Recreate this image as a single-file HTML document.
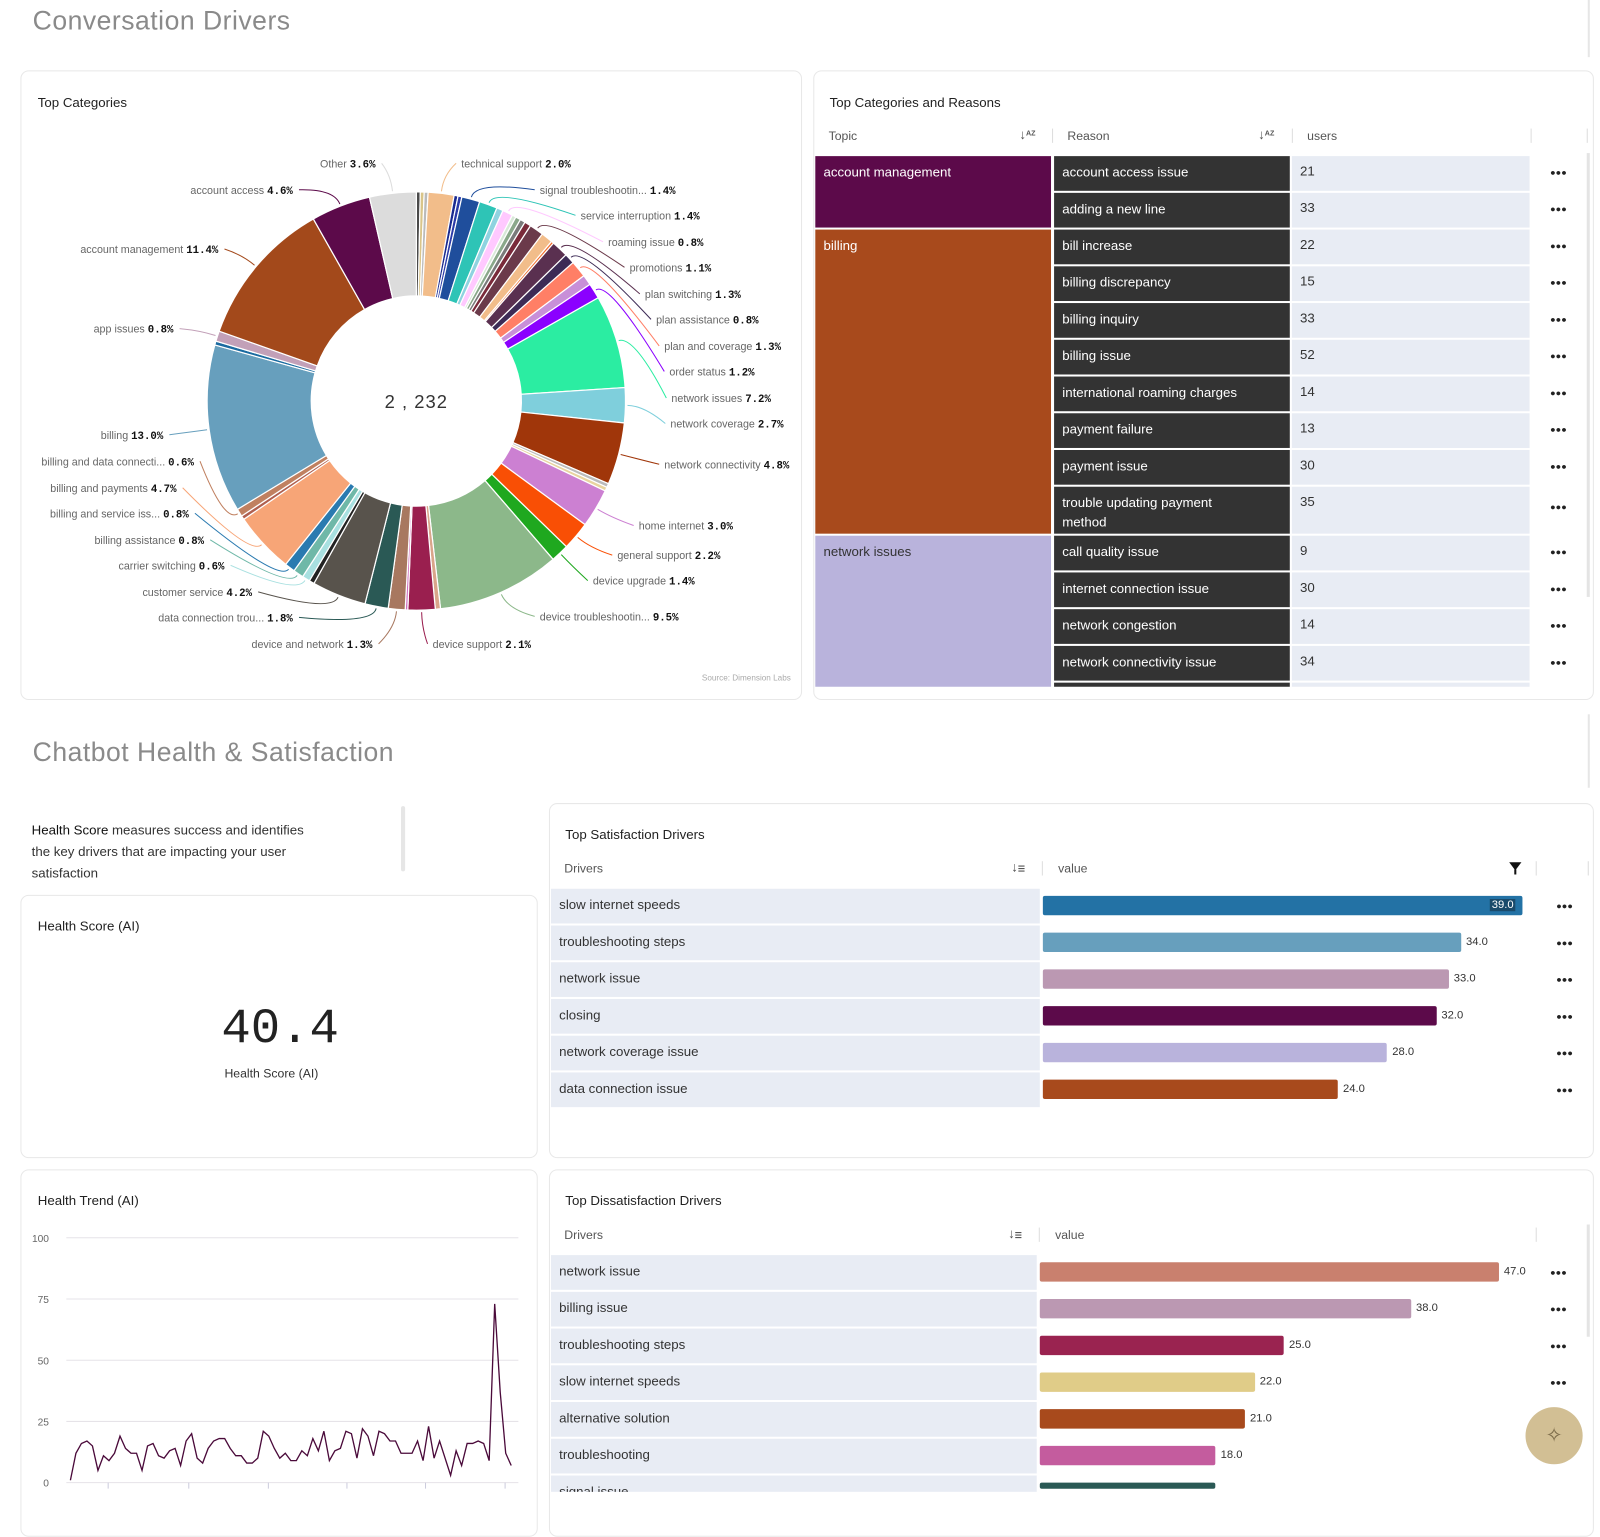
<!DOCTYPE html>
<html><head><meta charset="utf-8">
<style>
html,body{margin:0;padding:0;width:1600px;height:1489px;overflow:hidden;background:#fff;font-family:"Liberation Sans",sans-serif;}
#wrap{position:absolute;left:0;top:0;width:1568px;height:1459px;transform:scale(1.020408);transform-origin:0 0;}
.abs{position:absolute;}
.card{position:absolute;border:1px solid #e8e8e8;border-radius:8px;background:#fff;box-sizing:border-box;}
.h1{position:absolute;font-size:26px;color:#8a8a8a;letter-spacing:0.5px;}
.ttl{position:absolute;font-size:13px;color:#222;}
.hdr{position:absolute;font-size:12px;color:#555;}
.sep{position:absolute;width:1px;height:14px;background:#ddd;}
.cell{position:absolute;box-sizing:border-box;font-size:13px;padding:8px 8px;overflow:hidden;}
.dots{position:absolute;font-size:9px;font-weight:bold;color:#222;letter-spacing:0px;}
</style></head><body>
<div id="wrap">
<div class="h1" style="left:32px;top:5px">Conversation Drivers</div>
<div class="abs" style="left:1556px;top:0;width:2px;height:56px;background:#e6e6e6"></div>

<div class="card" style="left:20px;top:69px;width:766px;height:617px">
  <div class="ttl" style="left:16px;top:23px">Top Categories</div>
  <div class="abs" style="right:10px;top:590px;font-size:8px;color:#aaa">Source: Dimension Labs</div>
</div>
<svg id="donut" class="abs" style="left:0;top:0" width="800" height="690"></svg>

<div class="card" style="left:797px;top:69px;width:765px;height:617px;overflow:hidden">
  <div class="ttl" style="left:15px;top:23px">Top Categories and Reasons</div>
</div>
<div id="tbl" class="abs" style="left:0;top:0;width:1568px;height:673px;overflow:hidden"></div>

<div class="h1" style="left:32px;top:722px">Chatbot Health &amp; Satisfaction</div>
<div class="abs" style="left:1556px;top:700px;width:2px;height:72px;background:#e6e6e6"></div>
<div class="abs" style="left:31px;top:803px;width:272px;font-size:13px;line-height:21px;color:#333"><b style="color:#111;font-weight:normal;">Health Score</b> measures success and identifies the key drivers that are impacting your user satisfaction</div>
<div class="abs" style="left:393px;top:790px;width:4px;height:64px;background:#e6e6e6;border-radius:2px"></div>

<div class="card" style="left:20px;top:877px;width:507px;height:258px">
  <div class="ttl" style="left:16px;top:22px">Health Score (AI)</div>
  <div class="abs" style="left:0;width:507px;top:104px;text-align:center;font-family:'Liberation Mono',monospace;font-size:48px;color:#222">40.4</div>
  <div class="abs" style="left:0;width:490px;top:167px;text-align:center;font-size:12px;color:#333">Health Score (AI)</div>
</div>

<div class="card" style="left:20px;top:1146px;width:507px;height:360px">
  <div class="ttl" style="left:16px;top:22px">Health Trend (AI)</div>
</div>
<svg id="trend" class="abs" style="left:0;top:0" width="530" height="1459"></svg>

<div class="card" style="left:538px;top:787px;width:1024px;height:348px">
  <div class="ttl" style="left:15px;top:22px">Top Satisfaction Drivers</div>
</div>
<div class="card" style="left:538px;top:1146px;width:1024px;height:360px">
  <div class="ttl" style="left:15px;top:22px">Top Dissatisfaction Drivers</div>
</div>
<div id="bars" class="abs" style="left:0;top:0"></div>

<div class="abs" style="left:1495px;top:1379px;width:56px;height:56px;border-radius:50%;background:#d2bf94;color:#7a6a48;font-size:20px;text-align:center;line-height:56px">✧</div>
</div>

<script>
// ---------- DONUT DATA ----------
const sliceNames = ["","","","technical support","","","signal troubleshootin...","service interruption","","roaming issue","","","","","promotions","","","plan switching","plan assistance","plan and coverage","","order status","network issues","network coverage","network connectivity","","","home internet","general support","device upgrade","device troubleshootin...","","device support","","device and network","data connection trou...","customer service","","carrier switching","billing assistance","billing and service iss...","billing and payments","","billing and data connecti...","billing","","app issues","account management","account access","Other"];
const sliceValues = [0.3,0.3,0.3,2.0,0.3,0.3,1.4,1.4,0.5,0.8,0.3,0.4,0.4,0.5,1.1,0.9,0.2,1.3,0.8,1.3,0.8,1.2,7.2,2.7,4.8,0.3,0.3,3.0,2.2,1.4,9.5,0.4,2.1,0.2,1.3,1.8,4.2,0.4,0.6,0.8,0.8,4.7,0.3,0.6,13.0,0.3,0.8,11.4,4.6,3.6];
const sliceColors = ["#4a4a4a","#d9c58a","#bbbbbb","#f2bd8a","#1a2a8f","#2a3aa8","#1f4e9c","#2ec4b6","#8fd3e0","#ffc9ff","#d8e8d8","#8aa88a","#7a7a7a","#7a2a3a","#6b3a4a","#f2bd8a","#f26b2a","#5a3050","#3d2b56","#ff7f66","#c88fd8","#8b00ff","#2beda2","#7fcfdc","#a0360a","#bbbbbb","#e8d4a0","#cc80d2","#f94f05","#1fa81f","#8cb88a","#d9a58a","#9a1f4f","#d070c0","#a87860","#2a5955","#58534c","#222222","#a8e0e0","#6fb8a8","#2a7ab0","#f7a577","#b06050","#c08060","#679fbd","#1a6aa0","#c2a0b8","#a3491b","#5c0a4a","#dcdcdc"];
const donutTotalLabel = "2,232";
// label layout (text anchor positions + side), keyed by name
const labelLayout = {"technical support":[452,164,1],"signal troubleshootin...":[529,190,1],"service interruption":[569,215,1],"roaming issue":[596,241,1],"promotions":[617,266,1],"plan switching":[632,292,1],"plan assistance":[643,317,1],"plan and coverage":[651,343,1],"order status":[656,368,1],"network issues":[658,394,1],"network coverage":[657,419,1],"network connectivity":[651,459,1],"home internet":[626,519,1],"general support":[605,548,1],"device upgrade":[581,573,1],"device troubleshootin...":[529,608,1],"device support":[424,635,1],"Other":[368,164,0],"account access":[287,190,0],"account management":[214,248,0],"app issues":[170,326,0],"billing":[160,430,0],"billing and data connecti...":[190,456,0],"billing and payments":[173,482,0],"billing and service iss...":[185,507,0],"billing assistance":[200,533,0],"carrier switching":[220,558,0],"customer service":[247,584,0],"data connection trou...":[287,609,0],"device and network":[365,635,0]};

const NS="http://www.w3.org/2000/svg";
function mk(tag,attrs,parent){const e=document.createElementNS(NS,tag);for(const k in attrs)e.setAttribute(k,attrs[k]);parent.appendChild(e);return e;}

(function(){
  const svg=document.getElementById('donut');
  const cx=408,cy=393,R=205,r=103;
  const total=sliceValues.reduce((a,b)=>a+b,0);
  const angle=v=>v/total*Math.PI*2;
  const pt=(a,rad)=>[cx+rad*Math.sin(a),cy-rad*Math.cos(a)];
  let acc=0;
  sliceValues.forEach((v,i)=>{
    const a0=angle(acc),a1=angle(acc+v);acc+=v;
    const large=(a1-a0)>Math.PI?1:0;
    const p0=pt(a0,R),p1=pt(a1,R),q1=pt(a1,r),q0=pt(a0,r);
    const p=mk('path',{d:`M${p0[0]},${p0[1]} A${R},${R} 0 ${large} 1 ${p1[0]},${p1[1]} L${q1[0]},${q1[1]} A${r},${r} 0 ${large} 0 ${q0[0]},${q0[1]} Z`,fill:sliceColors[i],stroke:'#fff','stroke-width':1.2},svg);
    
    
    const nm=sliceNames[i];
    if(nm && labelLayout[nm]){
      const [lx,ly,side]=labelLayout[nm];
      const am=(a0+a1)/2;
      const s=pt(am,R+2);
      const right=side===1;
      const ex=right?lx-5:lx+6;
      const el=mk('path',{d:`M${s[0]},${s[1]} Q${pt(am,R+18)[0]},${pt(am,R+18)[1]} ${ex},${ly-4}`,fill:'none',stroke:sliceColors[i],'stroke-width':1},svg);
      
      
      const t=mk('text',{x:lx,y:ly,'font-size':10.5,'text-anchor':right?'start':'end','font-family':'Liberation Sans, sans-serif',fill:'#666'},svg);
      
      
      const a=mk('tspan',{},t);a.textContent=nm+' ';
      const b=mk('tspan',{'font-family':'Liberation Mono, monospace','font-weight':'bold',fill:'#111'},t);b.textContent=v.toFixed(1)+'%';
    }
  });
  const c=mk('text',{x:cx,y:cy+7,'text-anchor':'middle','font-size':18,fill:'#333','font-family':'Liberation Sans, sans-serif','letter-spacing':'1'},svg);
  
  
  c.textContent=donutTotalLabel.replace(',',' , ');
})();

// ---------- TABLE DATA ----------
const topicNames=["account management","billing","network issues"];
const topicColors=["#5c0a4a","#a84a1c","#b9b3dc"];
const topicRowCounts=[2,8,5];
const reasonNames=["account access issue","adding a new line","bill increase","billing discrepancy","billing inquiry","billing issue","international roaming charges","payment failure","payment issue","trouble updating payment method","call quality issue","internet connection issue","network congestion","network connectivity issue",""];
const reasonUsers=[21,33,22,15,33,52,14,13,30,35,9,30,14,34,""];

(function(){
  const T=document.getElementById('tbl');
  let h='';
  h+=`<div class="hdr" style="left:812px;top:126px">Topic</div>`;
  h+=`<div class="hdr" style="left:999px;top:124px;font-size:13px;font-weight:bold">↓<span style="font-size:7px;vertical-align:3px">AZ</span></div>`;
  h+=`<div class="sep" style="left:1031px;top:126px"></div>`;
  h+=`<div class="hdr" style="left:1046px;top:126px">Reason</div>`;
  h+=`<div class="hdr" style="left:1233px;top:124px;font-size:13px;font-weight:bold">↓<span style="font-size:7px;vertical-align:3px">AZ</span></div>`;
  h+=`<div class="sep" style="left:1266px;top:126px"></div>`;
  h+=`<div class="hdr" style="left:1281px;top:126px">users</div>`;
  h+=`<div class="sep" style="left:1500px;top:126px"></div>`;
  h+=`<div class="sep" style="left:1555px;top:126px"></div>`;
  h+=`<div class="abs" style="left:1555px;top:150px;width:3px;height:435px;background:#e4e4e4"></div>`;
  const heights=reasonNames.map(n=>n==="trouble updating payment method"?48:36);
  const tops=[];let y=153;heights.forEach(hh=>{tops.push(y);y+=hh;});
  let ri=0;
  topicNames.forEach((tn,k)=>{
    const t0=tops[ri];const last=ri+topicRowCounts[k];
    const t1=last<tops.length?tops[last]:y;ri=last;
    h+=`<div class="cell" style="left:799px;top:${t0}px;width:231px;height:${t1-t0-2}px;background:${topicColors[k]};color:${k==2?'#333':'#fff'}">${tn}</div>`;
  });
  reasonNames.forEach((rn,i)=>{
    const t0=tops[i];const hh=heights[i]-2;
    const nar=heights[i]>36?'padding-right:40px;':'';
    h+=`<div class="cell" style="left:1033px;top:${t0}px;width:231px;height:${hh}px;background:#333;color:#fff;line-height:19px;padding-top:6px;${nar}">${rn}</div>`;
    h+=`<div class="cell" style="left:1266px;top:${t0}px;width:233px;height:${hh}px;background:#e8ecf4;color:#333;padding-top:7px">${reasonUsers[i]}</div>`;
    if(rn) h+=`<div class="dots" style="left:1519px;top:${t0+(heights[i]>36?15:11)}px">●●●</div>`;
  });
  T.innerHTML=h;
})();

// ---------- TREND DATA ----------
const trendValues=[1,12,16,17,15,5,11,9,12,19,14,12,12,5,15,16,11,10,13,14,7,17,20,10,8,14,17,18,18,14,11,11,8,8,10,21,19,14,10,12,9,9,13,11,18,13,21,9,13,14,21,20,10,22,19,11,21,20,17,17,12,12,12,17,9,23,10,17,10,3,13,7,16,16,17,16,9,73,37,12,7];
const trendTicks=[0,25,50,75,100];
(function(){
  const svg=document.getElementById('trend');
  const y=v=>1453-v*2.4;
  const x=i=>69+i*(432/(trendValues.length-1));
  trendTicks.forEach(t=>{
    const l=mk('line',{x1:65,x2:508,y1:y(t),y2:y(t),stroke:'#e6e3e8','stroke-width':1},svg);
    
    
    const tx=mk('text',{x:48,y:y(t)+4,'text-anchor':'end','font-size':10,fill:'#666','font-family':'Liberation Sans, sans-serif'},svg);
    
    
    tx.textContent=t;
  });
  [106,185,263,340,417,495].forEach(px=>{
    const l=mk('line',{x1:px,x2:px,y1:1453,y2:1459,stroke:'#ccd',"stroke-width":1},svg);
    
    
  });
  const pl=mk('polyline',{points:trendValues.map((v,i)=>x(i)+','+y(v)).join(' '),fill:'none',stroke:'#4a0a3a','stroke-width':1.3},svg);
  
  
})();

// ---------- DRIVER BAR DATA ----------
const satDrivers=["slow internet speeds","troubleshooting steps","network issue","closing","network coverage issue","data connection issue"];
const satValues=[39,34,33,32,28,24];
const satColors=["#2372a5","#679fbd","#bb98b2","#5c0a4a","#b9b3dc","#a84a1c"];
const disDrivers=["network issue","billing issue","troubleshooting steps","slow internet speeds","alternative solution","troubleshooting","signal issue"];
const disValues=[47,38,25,22,21,18,18];
const disColors=["#c9806e","#bb98b2","#9a2350","#e0cc88","#a84a1c","#c45c9e","#2a5955"];

(function(){
  const B=document.getElementById('bars');
  let h='';
  function table(top,drivers,vals,cols,x0,scale,iconX,sepX,valX,filter,clipY,nameP){
    h+=`<div class="hdr" style="left:553px;top:${top}px">Drivers</div>`;
    h+=`<div class="hdr" style="left:${iconX}px;top:${top-2}px;font-size:13px;font-weight:bold">↓<span style="font-size:8px">☰</span></div>`;
    h+=`<div class="sep" style="left:${sepX}px;top:${top}px"></div>`;
    h+=`<div class="hdr" style="left:${valX}px;top:${top}px">value</div>`;
    if(filter) h+=`<div class="abs" style="left:1479px;top:${top+1}px;width:0;height:0;border-left:6px solid transparent;border-right:6px solid transparent;border-top:8px solid #111"></div><div class="abs" style="left:1484px;top:${top+8}px;width:2px;height:5px;background:#111"></div>`;
    h+=`<div class="sep" style="left:1505px;top:${top}px"></div>`;
    h+=`<div class="sep" style="left:1556px;top:${top}px"></div>`;
    drivers.forEach((d,i)=>{
      const t=top+27+i*36; if(t>clipY)return;
      const hh=Math.min(34,clipY-t);
      h+=`<div class="cell" style="left:540px;top:${t}px;width:${x0-543}px;height:${hh}px;background:#e8ecf4;color:#333;overflow:hidden">${d}</div>`;
      const w=vals[i]*scale;
      h+=`<div class="abs" style="left:${x0}px;top:${t+7}px;width:${w}px;height:${Math.min(19,Math.max(0,hh-7))}px;background:${cols[i]};border-radius:2px"></div>`;
      const lbl=vals[i].toFixed(1);
      if(i===0&&nameP==='satisfaction') h+=`<div class="abs" style="left:${x0+w-32}px;top:${t+10}px;font-size:11px;color:#fff;background:#1a4a6a;padding:0 2px">${lbl}</div>`;
      else if(hh>25) h+=`<div class="abs" style="left:${x0+w+5}px;top:${t+10}px;font-size:11px;color:#333">${lbl}</div>`;
      if(hh>25 && (nameP==='satisfaction'||i<4)) h+=`<div class="dots" style="left:${nameP==='satisfaction'?1525:1519}px;top:${t+12}px">●●●</div>`;
    });
  }
  table(844,satDrivers,satValues,satColors,1022,12.05,991,1021,1037,true,2000,'satisfaction');
  table(1203,disDrivers,disValues,disColors,1019,9.57,988,1018,1034,false,1459,'dissatisfaction');
  h+=`<div class="abs" style="left:1555px;top:1200px;width:3px;height:110px;background:#e4e4e4"></div>`;
  B.innerHTML=h;
})();
</script>
</body></html>
